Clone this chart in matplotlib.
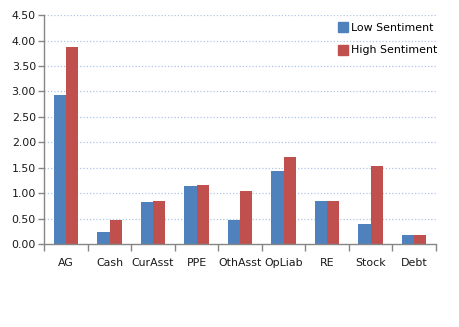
import numpy as np
import matplotlib
matplotlib.use("Agg")
import matplotlib.pyplot as plt
from matplotlib.lines import Line2D

# Chart data
categories = ["AG", "Cash", "CurAsst", "PPE", "OthAsst", "OpLiab", "RE", "Stock", "Debt"]
low_sentiment = [2.93, 0.24, 0.83, 1.14, 0.48, 1.44, 0.85, 0.40, 0.18]
high_sentiment = [3.88, 0.48, 0.85, 1.16, 1.05, 1.71, 0.85, 1.54, 0.18]
y_ticks = [0.0, 0.5, 1.0, 1.5, 2.0, 2.5, 3.0, 3.5, 4.0, 4.5]

blue = "#4F81BD"
red = "#C0504D"
axis_grey = "#868686"

plt.rcParams['font.family'] = ['DejaVu Sans']

fig = plt.figure(figsize=(4.6, 3.27), dpi=100)
ax = fig.add_axes([0.0963, 0.253, 0.851, 0.701])

x = np.arange(len(categories))
w = 1 / 3.5  # gap width 150%
ax.bar(x - w / 2, low_sentiment, w, color=blue, zorder=3)
ax.bar(x + w / 2, high_sentiment, w, color=red, zorder=3)

ax.set_xlim(-0.5, len(categories) - 0.5)
ax.set_ylim(0, 4.5)

# y axis
ax.set_yticks(y_ticks)
ax.set_yticklabels([f"{v:.2f}" for v in y_ticks], fontsize=7.9, color="#1a1a1a")
ax.tick_params(axis='y', length=4, width=1, color=axis_grey, pad=2)
for v in y_ticks[1:]:
    ax.axhline(v, color="#AFC6E6", lw=0.9, ls=(0, (1, 1.6)), zorder=1)

# x axis: ticks at category boundaries, labels at centres
ax.set_xticks(np.arange(-0.5, len(categories), 1.0))
ax.set_xticklabels([])
ax.tick_params(axis='x', which='major', length=5, width=1, color=axis_grey)
ax.set_xticks(x, minor=True)
ax.set_xticklabels(categories, minor=True, fontsize=7.9, color="#1a1a1a")
ax.tick_params(axis='x', which='minor', length=0, pad=10)

for side in ["top", "right"]:
    ax.spines[side].set_visible(False)
for side in ["left", "bottom"]:
    ax.spines[side].set_color(axis_grey)
    ax.spines[side].set_linewidth(1)
    ax.spines[side].set_zorder(4)

handles = [
    Line2D([], [], marker='s', ls='', markersize=6.5, color=blue, label="Low Sentiment"),
    Line2D([], [], marker='s', ls='', markersize=6.5, color=red, label="High Sentiment"),
]
ax.legend(handles=handles, loc="upper right", bbox_to_anchor=(1.02, 0.995), frameon=False,
          fontsize=7.9, labelspacing=1.15, handlelength=0.8, handletextpad=0.3,
          borderaxespad=0.2)

fig.savefig("out.png", dpi=100)
